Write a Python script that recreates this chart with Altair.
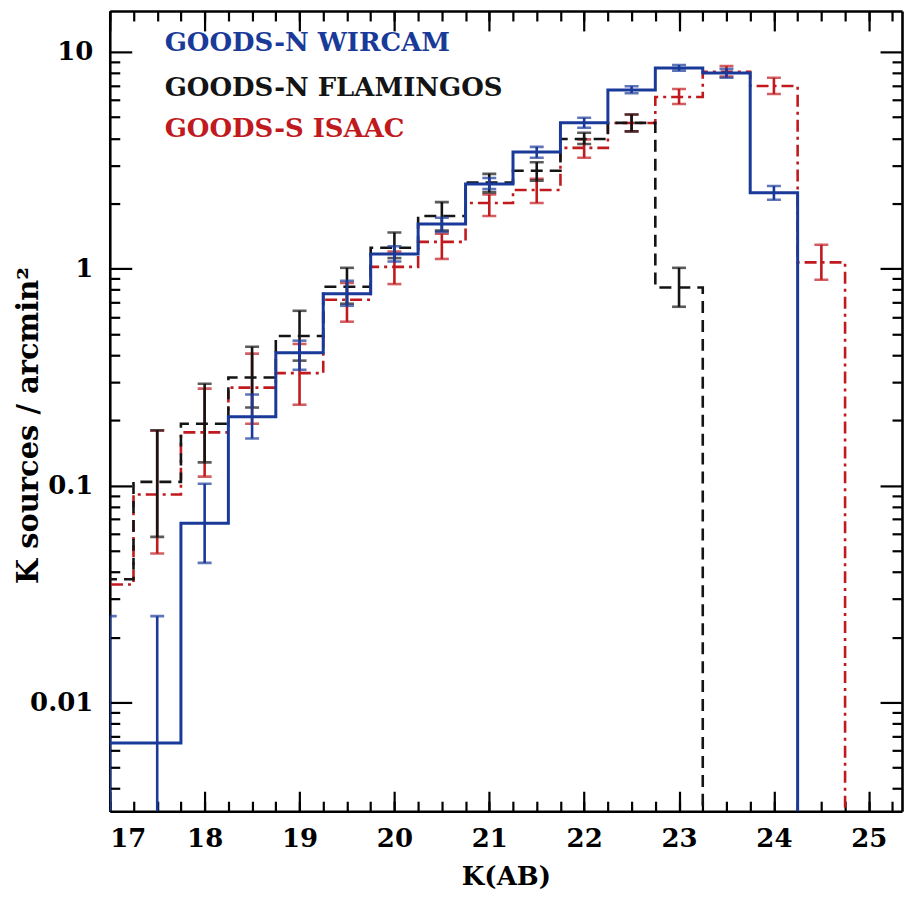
import altair as alt
import pandas as pd

# ---------------- data ----------------
centers = [17.0, 17.5, 18.0, 18.5, 19.0, 19.5, 20.0, 20.5, 21.0, 21.5,
           22.0, 22.5, 23.0, 23.5, 24.0, 24.5]

wircam_val = [0.0065, 0.0065, 0.067, 0.208, 0.41, 0.767, 1.17, 1.61, 2.46, 3.46,
              4.71, 6.68, 8.44, 8.0, 2.24, None]
wircam_lo = [0.0005, 0.0005, 0.044, 0.165, 0.342, 0.675, 1.08, 1.48, 2.33, 3.25,
             4.47, 6.45, 8.2, 7.6, 2.08, None]
wircam_hi = [0.025, 0.025, 0.102, 0.263, 0.466, 0.88, 1.27, 1.72, 2.62, 3.65,
             4.97, 6.95, 8.7, 8.35, 2.41, None]

flamingos_val = [0.037, 0.104, 0.193, 0.315, 0.49, 0.826, 1.25, 1.75, 2.5, 2.83,
                 3.97, 4.71, 0.82, None, None, None]
flamingos_lo = [None, 0.058, 0.128, 0.229, 0.377, 0.69, 1.12, 1.5, 2.25, 2.55,
                3.76, 4.3, 0.668, None, None, None]
flamingos_hi = [None, 0.18, 0.295, 0.437, 0.64, 1.01, 1.47, 2.03, 2.74, 3.1,
                4.24, 5.15, 1.01, None, None, None]

isaac_val = [0.035, 0.091, 0.176, 0.283, 0.33, 0.72, 1.02, 1.33, 2.01, 2.31,
             3.61, 4.7, 6.2, 8.1, 6.97, 1.07]
isaac_lo = [None, 0.0486, 0.110, 0.193, 0.236, 0.57, 0.85, 1.11, 1.75, 2.01,
            3.25, 4.3, 5.75, 7.7, 6.4, 0.89]
isaac_hi = [None, 0.179, 0.28, 0.406, 0.45, 0.86, 1.2, 1.45, 2.2, 2.6,
            3.95, 5.15, 6.75, 8.6, 7.6, 1.29]

series_names = ["GOODS-N WIRCAM", "GOODS-N FLAMINGOS", "GOODS-S ISAAC"]
series_colors = ["#1a3a9a", "#141414", "#c01a1f"]

x_label_values = [17, 18, 19, 20, 21, 22, 23, 24, 25]
y_label_values = [0.01, 0.1, 1, 10]

# ---------------- layout ----------------
W, H = 794, 802
XDOM = [17.0, 25.35]
YDOM = [0.00315, 15.45]
HALF = 0.25          # half bin width
FLOOR = 1e-4         # histogram drops below the axis after the last bin
FONT = "DejaVu Serif"

x_minor_values = [17 + 0.25 * i for i in range(0, 34)]
y_minor_values = [m * 10.0 ** e for e in range(-3, 2) for m in range(2, 10)]
y_minor_values = [v for v in y_minor_values if YDOM[0] <= v <= YDOM[1]]


def xs():
    return alt.Scale(domain=XDOM, nice=False, zero=False)


def ys():
    return alt.Scale(type="log", domain=YDOM, nice=False)


def step_frame(vals):
    rows, k, last = [], 0, None
    for c, v in zip(centers, vals):
        if v is None:
            continue
        rows.append({"x": c - HALF, "y": v, "o": k}); k += 1
        rows.append({"x": c + HALF, "y": v, "o": k}); k += 1
        last = c
    rows.append({"x": last + HALF, "y": FLOOR, "o": k})
    return pd.DataFrame(rows)


def err_frame(lo, hi):
    rows = [{"x": c, "lo": l, "hi": h} for c, l, h in zip(centers, lo, hi)
            if l is not None and h is not None]
    return pd.DataFrame(rows)


def series_layers(vals, lo, hi, color, width, dash):
    line_kw = dict(color=color, strokeWidth=width, clip=True)
    if dash:
        line_kw["strokeDash"] = dash
    line = alt.Chart(step_frame(vals)).mark_line(**line_kw).encode(
        x=alt.X("x:Q", scale=xs(), axis=None),
        y=alt.Y("y:Q", scale=ys(), axis=None),
        order="o:Q",
    )
    ef = err_frame(lo, hi)
    rule = alt.Chart(ef).mark_rule(color=color, strokeWidth=2.6, clip=True).encode(
        x=alt.X("x:Q", scale=xs(), axis=None),
        y=alt.Y("lo:Q", scale=ys(), axis=None),
        y2="hi:Q",
    )
    cap_hi = alt.Chart(ef).mark_tick(color=color, orient="horizontal", size=14,
                                     thickness=2.6, clip=True).encode(
        x=alt.X("x:Q", scale=xs(), axis=None),
        y=alt.Y("hi:Q", scale=ys(), axis=None),
    )
    cap_lo = alt.Chart(ef).mark_tick(color=color, orient="horizontal", size=14,
                                     thickness=2.6, clip=True).encode(
        x=alt.X("x:Q", scale=xs(), axis=None),
        y=alt.Y("lo:Q", scale=ys(), axis=None),
    )
    return [line, rule, cap_hi, cap_lo]


anchor = pd.DataFrame({"x": [20.0], "y": [1.0]})


def x_axis_layer(**axis_kw):
    return alt.Chart(anchor).mark_point(opacity=0).encode(
        x=alt.X("x:Q", scale=xs(), axis=alt.Axis(**axis_kw)))


def y_axis_layer(**axis_kw):
    return alt.Chart(anchor).mark_point(opacity=0).encode(
        y=alt.Y("y:Q", scale=ys(), axis=alt.Axis(**axis_kw)))


tick_style = dict(tickColor="black", tickWidth=2.2, labels=False, grid=False, title=None)

layers = []
layers += series_layers(isaac_val, isaac_lo, isaac_hi, series_colors[2], 2.6, [12, 5, 3, 5])
layers += series_layers(flamingos_val, flamingos_lo, flamingos_hi, series_colors[1], 2.6, [12, 7])
layers += series_layers(wircam_val, wircam_lo, wircam_hi, series_colors[0], 3.0, None)

# legend texts
legend_y = [32, 77, 118]
for name, col, yy in zip(series_names, series_colors, legend_y):
    layers.append(
        alt.Chart(pd.DataFrame({"t": [name]})).mark_text(
            align="left", baseline="middle", font=FONT, fontWeight="bold",
            fontSize=26, color=col
        ).encode(x=alt.value(55), y=alt.value(yy), text="t:N")
    )

# bottom axis: labels + frame
layers.append(x_axis_layer(orient="bottom", values=x_label_values, ticks=False, tickSize=0,
                           domain=True, domainColor="black", domainWidth=2.6,
                           labelFont=FONT, labelFontWeight="bold", labelFontSize=26,
                           labelColor="black", labelPadding=14, grid=False,
                           format="d", title="K(AB)", titleFont=FONT,
                           titleFontWeight="bold", titleFontSize=26, titleColor="black",
                           titleBaseline="middle", titleY=65))
# bottom inward ticks
layers.append(x_axis_layer(orient="top", offset=-H, values=x_label_values, tickSize=20,
                           domain=False, **tick_style))
layers.append(x_axis_layer(orient="top", offset=-H, values=x_minor_values, tickSize=10,
                           domain=False, **tick_style))
# top inward ticks + frame
layers.append(x_axis_layer(orient="bottom", offset=-H, values=x_label_values, tickSize=20,
                           domain=True, domainColor="black", domainWidth=2.6, **tick_style))
layers.append(x_axis_layer(orient="bottom", offset=-H, values=x_minor_values, tickSize=10,
                           domain=False, **tick_style))
# left axis labels + frame
layers.append(y_axis_layer(orient="left", values=y_label_values, ticks=False, tickSize=0,
                           domain=True, domainColor="black", domainWidth=2.6,
                           labelFont=FONT, labelFontWeight="bold", labelFontSize=26,
                           labelColor="black", labelPadding=17, grid=False,
                           labelExpr="datum.value >= 1 ? format(datum.value, 'd') : format(datum.value, '.2~f')",
                           title="K sources / arcmin²", titleFont=FONT,
                           titleFontWeight="bold", titleFontSize=29, titleColor="black",
                           titleX=-81, titleY=415, titleAlign="center",
                           titleBaseline="middle", titleAngle=270))
# left inward ticks
layers.append(y_axis_layer(orient="right", offset=-W, values=y_label_values, tickSize=22,
                           domain=False, **tick_style))
layers.append(y_axis_layer(orient="right", offset=-W, values=y_minor_values, tickSize=10,
                           domain=False, **tick_style))
# right inward ticks + frame
layers.append(y_axis_layer(orient="left", offset=-W, values=y_label_values, tickSize=22,
                           domain=True, domainColor="black", domainWidth=2.6, **tick_style))
layers.append(y_axis_layer(orient="left", offset=-W, values=y_minor_values, tickSize=10,
                           domain=False, **tick_style))

chart = alt.layer(*layers).resolve_scale(x="independent", y="independent").properties(
    width=W, height=H,
    padding={"left": 102, "top": 2, "right": 2, "bottom": 80},
    autosize=alt.AutoSizeParams(type="none"),
).configure_view(strokeWidth=0)

chart.save("out.html", embed_options={"renderer": "svg", "actions": False})
